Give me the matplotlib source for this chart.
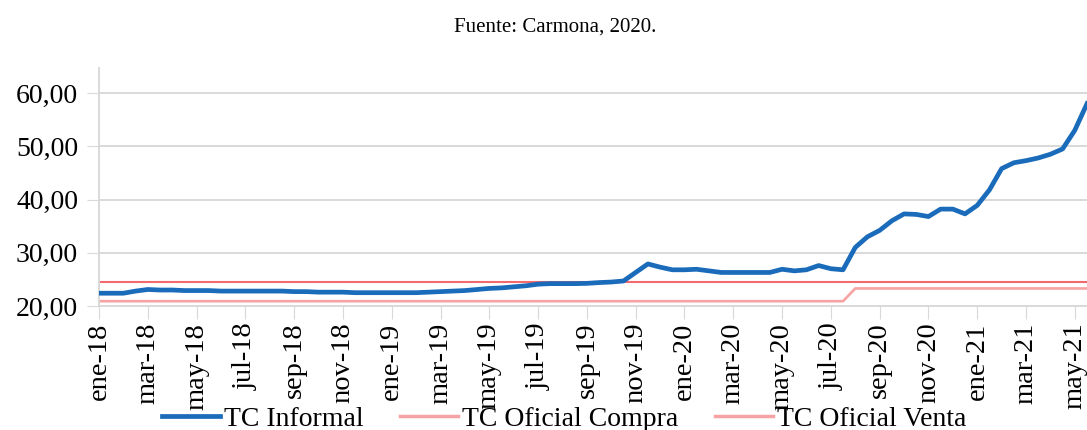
import numpy as np
import matplotlib
matplotlib.use('Agg')
import matplotlib.pyplot as plt

# series data, x in months since ene-18 (semi-monthly points)
informal_x = np.arange(0, 40.51, 0.5)
informal = [22.4, 22.4, 22.4, 22.8, 23.1, 23.0, 23.0, 22.9, 22.9, 22.9,
            22.8, 22.8, 22.8, 22.8, 22.8, 22.8, 22.7, 22.7, 22.6, 22.6,
            22.6, 22.5, 22.5, 22.5, 22.5, 22.5, 22.5, 22.6, 22.7, 22.8,
            22.9, 23.1, 23.3, 23.4, 23.6, 23.8, 24.1, 24.2, 24.2, 24.2,
            24.25, 24.4, 24.5, 24.7, 26.3, 27.9, 27.3, 26.8, 26.8, 26.9,
            26.6, 26.3, 26.3, 26.3, 26.3, 26.3, 26.9, 26.6, 26.8, 27.6,
            27.0, 26.8, 31.0, 33.0, 34.2, 36.0, 37.3, 37.2, 36.8, 38.2,
            38.2, 37.3, 38.9, 41.8, 45.8, 46.9, 47.3, 47.8, 48.5, 49.5,
            53.0, 58.0]

compra_x = [0, 30.5, 31.0, 40.5]
compra = [20.9, 20.9, 23.3, 23.3]
venta_x = [0, 40.5]
venta = [24.55, 24.55]

tick_pos = [0, 2, 4, 6, 8, 10, 12, 14, 16, 18, 20, 22, 24, 26, 28, 30, 32, 34, 36, 38, 40]
tick_labels = ['ene-18', 'mar-18', 'may-18', 'jul-18', 'sep-18', 'nov-18',
               'ene-19', 'mar-19', 'may-19', 'jul-19', 'sep-19', 'nov-19',
               'ene-20', 'mar-20', 'may-20', 'jul-20', 'sep-20', 'nov-20',
               'ene-21', 'mar-21', 'may-21']
y_ticks = [20, 30, 40, 50, 60]

plt.rcParams['font.family'] = ['Liberation Serif', 'DejaVu Serif']
grid_col = '#D9D9D9'

fig = plt.figure(figsize=(10.87, 4.30), dpi=100)
ax = fig.add_axes([99/1087, 1-306/430, 1-99/1087, (306-68)/430])

ax.plot(informal_x, informal, color='#1A6BBA', lw=3.4, label='TC Informal',
        solid_joinstyle='round', zorder=3)
ax.plot(compra_x, compra, color='#F7A3A3', lw=1.9, label='TC Oficial Compra', zorder=2)
ax.plot(venta_x, venta, color='#F26A6E', lw=1.5, label='TC Oficial Venta', zorder=2)

ax.set_xlim(0, 40.5)
ax.set_ylim(20, 64.7)
ax.set_xticks(tick_pos)
ax.set_xticklabels(tick_labels, rotation=90, fontsize=20.5)
ax.set_yticks(y_ticks)
ax.set_yticklabels([f'{v:.2f}'.replace('.', ',') for v in y_ticks], fontsize=20)
ax.tick_params(axis='x', length=9, color=grid_col, pad=3)
ax.tick_params(axis='y', length=9, color=grid_col, pad=6)
ax.grid(axis='y', color=grid_col, lw=1.4)
ax.set_axisbelow(True)
for s in ['top', 'right']:
    ax.spines[s].set_visible(False)
for s in ['left', 'bottom']:
    ax.spines[s].set_color(grid_col)
    ax.spines[s].set_linewidth(1.4)

fig.text(555/1087, 1-27/430, 'Fuente: Carmona, 2020.', ha='center', va='center', fontsize=15)

leg = fig.legend(loc='center', bbox_to_anchor=(564/1087, 1-419/430), ncol=3, frameon=False,
                 fontsize=20, handlelength=2.1, handletextpad=0.15, columnspacing=1.3,
                 borderaxespad=0, borderpad=0)
leg.get_lines()[2].set_color('#F7A3A3')
leg.get_lines()[2].set_linewidth(2.5)
leg.get_lines()[1].set_linewidth(2.5)

fig.savefig('out.png', dpi=100)
